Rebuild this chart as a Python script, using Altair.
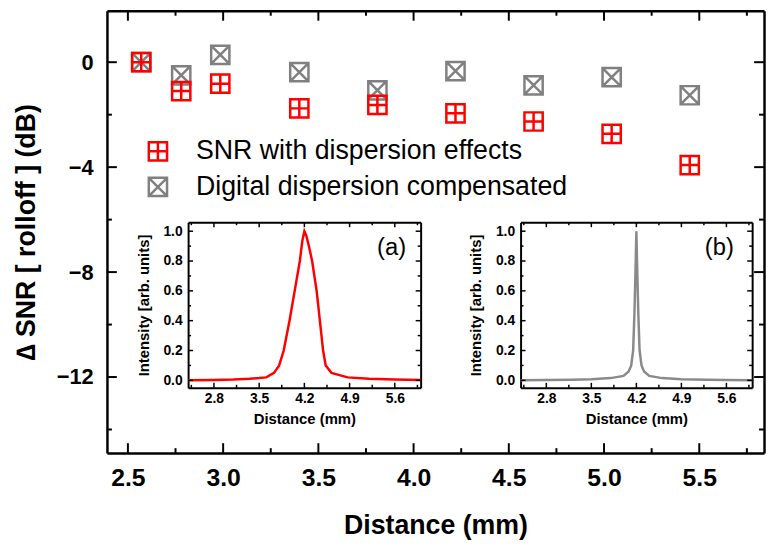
import altair as alt
import pandas as pd

# ---------------- data ----------------
main_x = [2.57, 2.78, 2.985, 3.40, 3.81, 4.22, 4.63, 5.04, 5.45]
snr_disp = [0.0, -1.10, -0.82, -1.76, -1.63, -1.95, -2.26, -2.73, -3.92]
snr_comp = [0.0, -0.50, 0.28, -0.38, -1.07, -0.34, -0.88, -0.57, -1.26]
series_names = ["SNR with dispersion effects", "Digital dispersion compensated"]

inset_a_x = [2.4, 2.8, 3.1, 3.35, 3.5, 3.61, 3.73, 3.81, 3.88, 3.97, 4.05, 4.13, 4.17,
             4.2, 4.23, 4.27, 4.32, 4.39, 4.44, 4.49, 4.53, 4.62, 4.87, 5.2, 5.6, 6.0]
inset_a_y = [0.0, 0.002, 0.005, 0.01, 0.015, 0.02, 0.05, 0.1, 0.2, 0.4, 0.6, 0.8, 0.94,
             1.0, 0.97, 0.9, 0.8, 0.6, 0.4, 0.2, 0.1, 0.05, 0.02, 0.01, 0.005, 0.002]

inset_b_x = [2.4, 2.8, 3.2, 3.5, 3.8, 4.0, 4.08, 4.12, 4.15, 4.17, 4.19, 4.2, 4.21,
             4.23, 4.25, 4.28, 4.32, 4.4, 4.6, 4.9, 5.3, 5.6, 6.0]
inset_b_y = [0.0, 0.002, 0.004, 0.007, 0.015, 0.03, 0.06, 0.1, 0.2, 0.45, 0.8, 1.0, 0.8,
             0.45, 0.2, 0.1, 0.06, 0.03, 0.015, 0.008, 0.004, 0.002, 0.0]

main_x_major = [2.5, 3.0, 3.5, 4.0, 4.5, 5.0, 5.5]
main_x_minor = [2.75, 3.25, 3.75, 4.25, 4.75, 5.25, 5.75]
main_y_major = [0, -4, -8, -12]
main_y_minor = [-2, -6, -10, -14]
inset_x_major = [2.8, 3.5, 4.2, 4.9, 5.6]
inset_x_minor = [2.45, 3.15, 3.85, 4.55, 5.25, 5.95]
inset_y_major = [0.0, 0.2, 0.4, 0.6, 0.8, 1.0]
inset_y_minor = [0.1, 0.3, 0.5, 0.7, 0.9]

RED = "#ff0000"
GRAY = "#808080"
FONT = "Liberation Sans"

W, H = 664, 447

MAIN_XD = [2.39, 5.84]
MAIN_YD = [-14.9, 1.96]
INSET_XD = [2.4, 6.0]
INSET_YD = [-0.05, 1.06]

PLUS_BOX = "M-1,-1L1,-1L1,1L-1,1Z M0,-1L0,1 M-1,0L1,0"
CROSS_BOX = "M-1,-1L1,-1L1,1L-1,1Z M-1,-1L1,1 M1,-1L-1,1"

# tick glyphs (a stroke starting at the frame line, pointing into the plot)
TICK_UP = "M0,0L0,-1"
TICK_DOWN = "M0,0L0,1"
TICK_RIGHT = "M0,0L1,0"
TICK_LEFT = "M0,0L-1,0"


def label_axis(orient, offset, values, dw, **kw):
    """Frame line with labels and title."""
    return alt.Axis(orient=orient, offset=offset, values=values, grid=False,
                    domain=True, domainColor="black", domainWidth=dw,
                    ticks=False, labels=True, labelColor="black", labelFont=FONT,
                    titleColor="black", titleFont=FONT, **kw)


def frame_axis(orient, offset, dw):
    """Frame line only (top / right sides)."""
    return alt.Axis(orient=orient, offset=offset, grid=False, ticks=False,
                    labels=False, domain=True, domainColor="black",
                    domainWidth=dw, title=None)


def frame(xv, yv, xs, ys, xaxis, yaxis):
    df = pd.DataFrame({"x": [xv], "y": [yv]})
    return alt.Chart(df).mark_point(opacity=0, size=1).encode(
        x=alt.X("x:Q", scale=xs, axis=xaxis),
        y=alt.Y("y:Q", scale=ys, axis=yaxis),
    )


def tick_marks(xs_vals, ys_vals, xs, ys, glyph, length, width):
    """Inward tick marks, placed through the chart's scales."""
    df = pd.DataFrame({"x": xs_vals, "y": ys_vals})
    return alt.Chart(df).mark_point(shape=glyph, filled=False, color="black",
                                    strokeWidth=width, opacity=1,
                                    size=4 * length * length).encode(
        x=alt.X("x:Q", scale=xs, axis=None),
        y=alt.Y("y:Q", scale=ys, axis=None),
    )


def frame_ticks(xs, ys, xd, yd, xvals, yvals, length, width):
    n, m = len(xvals), len(yvals)
    return [
        tick_marks(xvals, [yd[0]] * n, xs, ys, TICK_UP, length, width),
        tick_marks(xvals, [yd[1]] * n, xs, ys, TICK_DOWN, length, width),
        tick_marks([xd[0]] * m, yvals, xs, ys, TICK_RIGHT, length, width),
        tick_marks([xd[1]] * m, yvals, xs, ys, TICK_LEFT, length, width),
    ]


# ---------------- main plot ----------------
mxs = alt.Scale(domain=MAIN_XD, range=[0, W], nice=False, zero=False)
mys = alt.Scale(domain=MAIN_YD, range=[H, 0], nice=False, zero=False)

df_main = pd.DataFrame({
    "x": main_x + main_x,
    "y": snr_comp + snr_disp,
    "series": [series_names[1]] * len(main_x) + [series_names[0]] * len(main_x),
})

leg = alt.Legend(orient="none", legendX=38, legendY=128.5, title=None,
                 labelFontSize=27, labelColor="black", labelFont=FONT, labelLimit=0,
                 symbolSize=340, symbolStrokeWidth=2.5, labelOffset=25,
                 rowPadding=7, padding=0)

points = alt.Chart(df_main).mark_point(filled=False, size=340, strokeWidth=2.5,
                                       opacity=1).encode(
    x=alt.X("x:Q", scale=mxs,
            axis=label_axis("bottom", 0, main_x_major, 2.5, format=".1f",
                            labelFontSize=25, labelFontWeight="bold", labelPadding=13,
                            title="Distance (mm)", titleFontSize=27,
                            titleFontWeight="bold", titlePadding=22)),
    y=alt.Y("y:Q", scale=mys,
            axis=label_axis("left", 0, main_y_major, 2.5, format="d",
                            labelFontSize=22, labelFontWeight="bold", labelPadding=14,
                            title="\u2206 SNR [ rolloff ]  (dB)", titleFontSize=27,
                            titleFontWeight="bold", titlePadding=16)),
    color=alt.Color("series:N", scale=alt.Scale(domain=series_names, range=[RED, GRAY]),
                    legend=leg),
    shape=alt.Shape("series:N", scale=alt.Scale(domain=series_names,
                                                range=[PLUS_BOX, CROSS_BOX]),
                    legend=leg),
)

layers = [points,
          frame(3, 0, mxs, mys, frame_axis("bottom", -H, 2.5), frame_axis("left", -W, 2.5))]
layers += frame_ticks(mxs, mys, MAIN_XD, MAIN_YD, main_x_major, main_y_major, 10, 2)
layers += frame_ticks(mxs, mys, MAIN_XD, MAIN_YD, main_x_minor, main_y_minor, 5, 2)


# ---------------- insets ----------------
def inset(xs_vals, ys_vals, color, left, right, label, label_x):
    top, bottom = 213.7, 381.0
    xs = alt.Scale(domain=INSET_XD, range=[left, right], nice=False, zero=False)
    ys = alt.Scale(domain=INSET_YD, range=[bottom, top], nice=False, zero=False)
    df = pd.DataFrame({"x": xs_vals, "y": ys_vals})
    out = [alt.Chart(df).mark_line(color=color, strokeWidth=2.5).encode(
        x=alt.X("x:Q", scale=xs,
                axis=label_axis("bottom", bottom - H, inset_x_major, 2, format=".1f",
                                labelFontSize=14, labelFontWeight="bold", labelPadding=4,
                                title="Distance (mm)", titleFontSize=15,
                                titleFontWeight="bold", titlePadding=6)),
        y=alt.Y("y:Q", scale=ys,
                axis=label_axis("left", -left, inset_y_major, 2, format=".1f",
                                labelFontSize=14, labelFontWeight="bold", labelPadding=6,
                                title="Intensity [arb. units]", titleFontSize=15,
                                titleFontWeight="bold", titlePadding=12)),
    )]
    out.append(frame(4.2, 0.5, xs, ys, frame_axis("bottom", top - H, 2),
                     frame_axis("left", -right, 2)))
    out += frame_ticks(xs, ys, INSET_XD, INSET_YD, inset_x_major, inset_y_major, 5, 1.5)
    out += frame_ticks(xs, ys, INSET_XD, INSET_YD, inset_x_minor, inset_y_minor, 3, 1.5)
    tdf = pd.DataFrame({"x": [label_x], "y": [0.89], "t": [label]})
    out.append(alt.Chart(tdf).mark_text(fontSize=24, color="black", font=FONT).encode(
        x=alt.X("x:Q", scale=xs, axis=None),
        y=alt.Y("y:Q", scale=ys, axis=None),
        text="t:N",
    ))
    return out


layers += inset(inset_a_x, inset_a_y, RED, 82, 317, "(a)", 5.55)
layers += inset(inset_b_x, inset_b_y, "#8a8a8a", 418, 652, "(b)", 5.49)

chart = alt.layer(*layers).resolve_scale(
    x="independent", y="independent"
).properties(
    width=W, height=H,
    autosize=alt.AutoSizeParams(type="none"),
    padding={"left": 100, "top": 0, "right": 2, "bottom": 85},
).configure(font=FONT).configure_view(strokeWidth=0)

chart.save("out.html", embed_options={"renderer": "svg", "actions": False})
